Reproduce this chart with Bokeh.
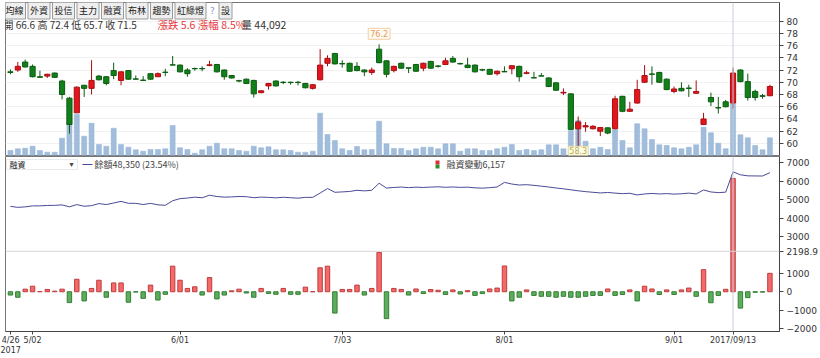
from bokeh.plotting import figure
from bokeh.layouts import column
from bokeh.models import ColumnDataSource, Range1d, FixedTicker, Label, Span, BoxAnnotation
from bokeh.embed import file_html
from bokeh.resources import INLINE

opens = [71.7, 72.0, 73.3, 72.6, 70.9, 71.0, 71.5, 70.2, 67.4, 65.0,
         69.5, 69.0, 71.0, 70.9, 71.9, 70.3, 71.9, 70.55, 70.35, 71.4,
         70.9, 71.65, 72.85, 72.8, 72.0, 72.25, 72.25, 72.75, 72.9, 72.0,
         71.1, 70.25, 70.5, 70.3, 68.3, 69.4, 70.2, 70.0, 70.0, 70.0,
         69.8, 69.0, 70.4, 73.1, 74.7, 73.05, 73.1, 72.6, 72.0, 71.6,
         75.4, 73.5, 71.9, 73.1, 72.35, 72.9, 72.3, 73.4, 72.65, 72.9,
         73.9, 73.05, 72.8, 72.8, 72.05, 72.1, 71.4, 71.75, 72.2, 72.6,
         71.45, 70.75, 71.05, 70.7, 69.9, 68.25, 68.1, 62.4, 62.7, 62.4,
         62.0, 62.55, 62.4, 67.7, 65.25, 66.6, 70.0, 71.35, 71.6, 70.5,
         68.5, 69.0, 69.05, 68.2, 63.1, 67.5, 65.85, 66.8, 66.6, 72.0,
         70.1, 68.5, 67.8, 67.8]
closes = [71.6, 72.6, 72.5, 70.9, 70.8, 71.3, 70.8, 68.0, 63.1, 69.2,
          69.0, 70.3, 70.4, 69.8, 71.1, 71.7, 70.5, 70.5, 70.3, 70.5,
          71.4, 71.6, 72.8, 71.7, 71.4, 72.2, 72.2, 72.85, 71.7, 70.9,
          70.7, 70.2, 69.8, 68.1, 68.6, 69.8, 69.4, 69.95, 69.95, 69.95,
          69.1, 69.6, 72.8, 73.9, 73.0, 73.0, 71.8, 71.9, 71.7, 72.0,
          73.2, 71.3, 72.6, 72.3, 72.3, 71.8, 73.1, 72.3, 72.6, 73.5,
          73.3, 73.0, 72.4, 71.7, 72.0, 71.3, 71.8, 71.7, 72.7, 70.9,
          71.55, 70.7, 71.0, 69.3, 68.7, 68.35, 62.3, 63.5, 62.9, 62.8,
          62.6, 61.7, 67.3, 65.25, 65.6, 68.8, 71.1, 71.3, 70.0, 68.8,
          68.9, 68.6, 69.0, 68.5, 64.0, 66.8, 65.8, 66.0, 71.5, 70.1,
          67.5, 67.5, 67.7, 69.3]
highs = [72.1, 73.3, 73.7, 72.9, 71.9, 71.4, 71.6, 70.4, 67.6, 69.3,
         69.6, 73.6, 71.2, 71.0, 73.2, 71.8, 72.0, 71.1, 71.0, 71.5,
         71.6, 72.2, 74.3, 72.9, 72.3, 72.4, 72.6, 73.5, 73.0, 72.1,
         71.2, 70.4, 70.6, 70.4, 68.7, 69.9, 70.3, 70.2, 70.1, 70.2,
         69.9, 69.7, 75.4, 74.4, 74.8, 73.6, 73.2, 73.3, 72.1, 72.4,
         76.2, 73.6, 72.7, 73.2, 72.4, 73.0, 73.2, 73.5, 72.8, 74.0,
         74.3, 73.2, 74.0, 72.9, 72.2, 72.2, 71.9, 72.6, 72.8, 72.7,
         71.9, 71.7, 71.5, 70.8, 70.0, 69.0, 68.2, 64.4, 63.5, 63.0,
         62.7, 62.6, 67.8, 67.8, 66.8, 70.4, 72.8, 72.6, 71.7, 70.6,
         69.3, 70.0, 69.6, 70.3, 65.0, 68.3, 67.6, 67.1, 72.4, 72.1,
         71.4, 68.8, 68.1, 69.6]
lows = [71.3, 71.7, 72.4, 70.8, 70.8, 70.7, 70.7, 67.2, 61.6, 65.0,
        67.6, 68.0, 70.3, 69.5, 70.5, 69.5, 70.4, 70.5, 70.3, 70.4,
        70.9, 71.0, 72.8, 71.6, 70.9, 71.9, 71.8, 72.6, 71.6, 70.4,
        70.6, 70.0, 69.7, 67.5, 68.2, 68.8, 69.3, 69.7, 69.6, 69.5,
        69.0, 68.8, 70.3, 72.6, 72.9, 72.4, 71.7, 71.8, 71.0, 71.2,
        73.1, 70.8, 71.6, 72.2, 71.5, 71.7, 71.8, 72.2, 72.4, 72.8,
        73.2, 72.9, 72.3, 71.6, 71.8, 71.2, 71.1, 71.7, 71.3, 70.1,
        71.3, 70.7, 71.0, 69.2, 68.6, 67.9, 62.2, 58.3, 61.9, 62.3,
        61.2, 61.5, 62.3, 65.1, 65.2, 66.5, 69.9, 69.6, 69.9, 68.7,
        68.2, 68.5, 67.6, 68.1, 63.0, 66.1, 64.9, 65.9, 65.7, 70.0,
        67.0, 67.0, 67.3, 67.7]
volumes = [4270, 5700, 6230, 7930, 4270, 2810, 2810, 14760, 28150, 34970,
           16460, 27550, 9380, 7930, 23290, 9380, 7080, 4860, 3670, 5120,
           5120, 5720, 25590, 6570, 5120, 1960, 4860, 7930, 10490, 5720,
           5720, 4270, 3670, 7930, 6570, 7420, 4860, 4860, 4270, 2810,
           2810, 3670, 36080, 17910, 12800, 5720, 4270, 7680, 4860, 5120,
           29260, 9980, 5970, 5970, 4270, 5720, 7080, 7080, 5720, 9980,
           9980, 3670, 5720, 5720, 4270, 4270, 5720, 7080, 9380, 4270,
           5120, 4270, 4860, 9130, 9130, 5720, 21330, 29860, 12200, 5720,
           7080, 5120, 21920, 12800, 6570, 27040, 22780, 13650, 9130, 8530,
           6570, 5720, 7080, 9130, 24140, 19360, 10490, 5720, 44092, 17660,
           15100, 8530, 4860, 15100]
margin_change = [-180, -300, 140, 300, 10, 125, 30, 140, -590, 680,
                 -500, 180, 625, -300, 480, 480, -570, -20, -360, 360,
                 -450, -140, 1390, 625, 180, 270, -180, 770, -390, -180,
                 50, 140, -70, -300, 180, -90, -140, 180, -140, -140,
                 250, 0, 1300, 1390, -1160, 125, 125, 360, -180, 180,
                 2140, -1460, 180, 125, -180, 150, -100, 120, 80, -150,
                 100, -120, 60, -200, -100, 150, 200, 1400, -500, -300,
                 100, -200, -250, -250, -300, -250, -300, -300, -250, -200,
                 -200, 150, -200, -150, 100, -500, 300, 150, -150, 100,
                 -150, 100, 200, -250, 1200, -600, -200, 133, 6157, -890,
                 -320, -30, -20, 1000]
margin_balance = [37900, 37600, 37740, 38040, 38050, 38175, 38205, 38345, 37755, 38435,
                  37935, 38115, 38740, 38440, 38920, 39400, 38830, 38810, 38450, 38810,
                  38360, 38220, 39610, 40235, 40415, 40685, 40505, 41275, 40885, 40705,
                  40755, 40895, 40825, 40525, 40705, 40615, 40475, 40655, 40515, 40375,
                  40625, 40625, 41925, 43315, 42155, 42280, 42405, 42765, 42585, 42765,
                  44905, 43445, 43625, 43750, 43570, 43720, 43620, 43740, 43820, 43670,
                  43770, 43650, 43710, 43510, 43410, 43560, 43760, 45160, 44660, 44360,
                  44460, 44260, 44010, 43760, 43460, 43210, 42910, 42610, 42360, 42160,
                  41960, 42110, 41910, 41760, 41860, 41360, 41660, 41810, 41660, 41760,
                  41610, 41710, 41910, 41660, 42860, 42260, 42060, 42193, 48350, 47460,
                  47140, 47110, 47090, 48090]
sel_idx = 98
sel_date = "2017/09/13"
tick_pos = [0, 3, 23, 45, 67, 90, sel_idx]
tick_text = ["4/26\n2017", "5/02", "6/01", "7/03", "8/01", "9/01", sel_date]
price_ticks = [60, 62, 64, 66, 68, 70, 72, 74, 76, 78, 80]
cross_val = 2198.9
change_ticks = [-2000, -1000, 0, 1000, cross_val, 3000, 4000, 5000, 6000, 7000]
hi_idx, hi_val = 50, 76.2
lo_idx, lo_val = 77, 58.3

FONT = "DejaVu Sans"
CJK = "Noto Sans CJK TC"
RED, RED_L = "#e3161e", "#a80f12"
GRN, GRN_L = "#12801a", "#0b5c10"

idx = list(range(len(opens)))
up = [c >= o for o, c in zip(opens, closes)]
csrc = ColumnDataSource(dict(
    x=idx, o=opens, c=closes, h=highs, l=lows, v=volumes,
    fill=[RED if u else GRN for u in up],
    line=[RED_L if u else GRN_L for u in up]))
msrc = ColumnDataSource(dict(
    x=idx, m=margin_change, b=margin_balance,
    fill=["#f46a6a" if m >= 0 else "#5cae5c" for m in margin_change],
    line=["#c03c3c" if m >= 0 else "#347f34" for m in margin_change]))

xr = Range1d(-0.67, 104.3)


def style_axis(ax, size="9px"):
    ax.axis_line_color = "#444444"
    ax.major_tick_line_color = "#444444"
    ax.major_tick_out = 4
    ax.major_tick_in = 0
    ax.minor_tick_line_color = None
    ax.major_label_text_font = FONT
    ax.major_label_text_font_size = size
    ax.major_label_text_color = "#333333"
    ax.major_label_standoff = 3


# ---------- price panel ----------
p1 = figure(width=820, height=156, x_range=xr, y_range=Range1d(58.03, 83.03),
            output_backend="svg", toolbar_location=None, x_axis_location=None,
            y_axis_location="right", min_border_left=5, min_border_right=37,
            min_border_top=2, min_border_bottom=1)
p1.extra_y_ranges = {"vol": Range1d(0, 130500)}
p1.outline_line_color = "#777777"
p1.xgrid.visible = False
p1.ygrid.grid_line_color = "#f1f1f1"
p1.yaxis.ticker = FixedTicker(ticks=price_ticks)
style_axis(p1.yaxis[0])

p1.vbar(x="x", top="v", bottom=0, width=0.68, source=csrc, y_range_name="vol",
        fill_color="#a2bddb", line_color="#8fb0d4", line_width=0.5)
p1.segment(x0="x", y0="l", x1="x", y1="h", source=csrc, line_color="line", line_width=1)
p1.vbar(x="x", top="o", bottom="c", width=0.7, source=csrc,
        fill_color="fill", line_color="line", line_width=1)

p1.add_layout(Span(location=sel_idx, dimension="height", line_color="#c8cedb", line_width=1))

p1.add_layout(Label(x=hi_idx, y=hi_val, text=f"{hi_val}", text_align="center",
                    text_baseline="bottom", y_offset=5, text_font=FONT, text_font_size="8px",
                    text_color="#e39a55", background_fill_color="#fffaf3",
                    border_line_color="#f2cfa2", padding=2))
p1.add_layout(Label(x=lo_idx, y=lo_val, text=f"{lo_val}", text_align="center",
                    text_baseline="middle", y_offset=3, text_font=FONT, text_font_size="8px",
                    text_color="#b5a65a", background_fill_color="#fffde3",
                    border_line_color="#e6dea3", padding=1))

# header buttons
buttons = ["均線", "外資", "投信", "主力", "融資", "布林", "趨勢", "紅綠燈"]
bx = 3
for b in buttons:
    w = 22 if len(b) == 2 else 31
    p1.add_layout(Label(x=bx + w / 2, y=10, x_units="canvas", y_units="canvas", text=b,
                        text_align="center", text_baseline="middle", text_font=CJK,
                        text_font_size="9px", text_color="#222222",
                        background_fill_color="#efefef", border_line_color="#9a9a9a",
                        padding=2))
    bx += w + 2.5
p1.add_layout(Label(x=bx + 4, y=10, x_units="canvas", y_units="canvas", text="?",
                    text_align="center", text_baseline="middle", text_font=FONT,
                    text_font_size="9px", text_color="#7a9ad0"))
p1.add_layout(Label(x=bx + 17, y=10, x_units="canvas", y_units="canvas", text="設",
                    text_align="center", text_baseline="middle", text_font=CJK,
                    text_font_size="9px", text_color="#222222",
                    background_fill_color="#efefef", border_line_color="#9a9a9a",
                    padding=2))

p1.add_layout(Label(x=3, y=24, x_units="canvas", y_units="canvas",
                    text=f"開 {opens[sel_idx]} 高 {highs[sel_idx]} 低 {lows[sel_idx]} 收 {closes[sel_idx]}",
                    text_baseline="middle", text_font=CJK, text_font_size="10px",
                    text_color="#333333"))
p1.add_layout(Label(x=157, y=24, x_units="canvas", y_units="canvas",
                    text="漲跌 5.6 漲幅 8.5%", text_baseline="middle", text_font=CJK,
                    text_font_size="10.5px", text_color="#e8383d"))
p1.add_layout(Label(x=241, y=24, x_units="canvas", y_units="canvas",
                    text=f"量 {volumes[sel_idx]:,}", text_baseline="middle", text_font=CJK,
                    text_font_size="10.5px", text_color="#333333"))

# ---------- margin panel ----------
p2 = figure(width=820, height=202, x_range=xr, y_range=Range1d(-2161, 7350),
            output_backend="svg", toolbar_location=None, y_axis_location="right",
            min_border_left=5, min_border_right=37, min_border_top=0, min_border_bottom=24)
p2.extra_y_ranges = {"bal": Range1d(0, 53000)}
p2.outline_line_color = "#777777"
p2.xgrid.visible = False
p2.ygrid.visible = False
p2.yaxis.ticker = FixedTicker(ticks=change_ticks)
p2.yaxis.major_label_overrides = {cross_val: f"{cross_val}"}
style_axis(p2.yaxis[0])
p2.xaxis.ticker = FixedTicker(ticks=tick_pos)
p2.xaxis.major_label_overrides = {k: t for k, t in zip(tick_pos, tick_text)}
style_axis(p2.xaxis[0], "8px")
p2.xaxis.major_tick_out = 3
p2.xaxis.major_label_standoff = 1

p2.vbar(x="x", top="m", bottom=0, width=0.6, source=msrc,
        fill_color="fill", line_color="line", line_width=1)
p2.line(x="x", y="b", source=msrc, y_range_name="bal", line_color="#4a4a96", line_width=1)

p2.add_layout(Span(location=sel_idx, dimension="height", line_color="#c8cedb", line_width=1))
p2.add_layout(Span(location=cross_val, dimension="width", line_color="#d6d6d6", line_width=1))

# legend row
p2.add_layout(BoxAnnotation(left=6, right=77, top=3, bottom=13, left_units="canvas",
                            right_units="canvas", top_units="canvas", bottom_units="canvas",
                            fill_color="#ffffff", fill_alpha=1, line_color="#bbbbbb",
                            line_width=1))
p2.add_layout(Label(x=9, y=8, x_units="canvas", y_units="canvas", text="融資",
                    text_baseline="middle", text_font=CJK, text_font_size="8px",
                    text_color="#222222"))
p2.add_layout(Label(x=71, y=8, x_units="canvas", y_units="canvas", text="▾",
                    text_align="center", text_baseline="middle", text_font=FONT,
                    text_font_size="8px", text_color="#444444"))
p2.add_layout(BoxAnnotation(left=82, right=92, top=7.5, bottom=8.5, left_units="canvas",
                            right_units="canvas", top_units="canvas", bottom_units="canvas",
                            fill_color="#4a4a96", fill_alpha=1, line_color=None))
p2.add_layout(Label(x=94, y=8, x_units="canvas", y_units="canvas",
                    text=f"餘額{margin_balance[sel_idx]:,} (23.54%)", text_baseline="middle",
                    text_font=CJK, text_font_size="9px", text_color="#444444"))
p2.add_layout(BoxAnnotation(left=435, right=439, top=4, bottom=8, left_units="canvas",
                            right_units="canvas", top_units="canvas", bottom_units="canvas",
                            fill_color="#e03030", fill_alpha=1, line_color=None))
p2.add_layout(BoxAnnotation(left=435, right=439, top=8, bottom=12, left_units="canvas",
                            right_units="canvas", top_units="canvas", bottom_units="canvas",
                            fill_color="#2f8f2f", fill_alpha=1, line_color=None))
p2.add_layout(Label(x=446, y=8, x_units="canvas", y_units="canvas",
                    text=f"融資變動{margin_change[sel_idx]:,}", text_baseline="middle",
                    text_font=CJK, text_font_size="9px", text_color="#444444"))

layout = column(p1, p2, spacing=0)
open("out.html", "w").write(file_html(layout, INLINE))
